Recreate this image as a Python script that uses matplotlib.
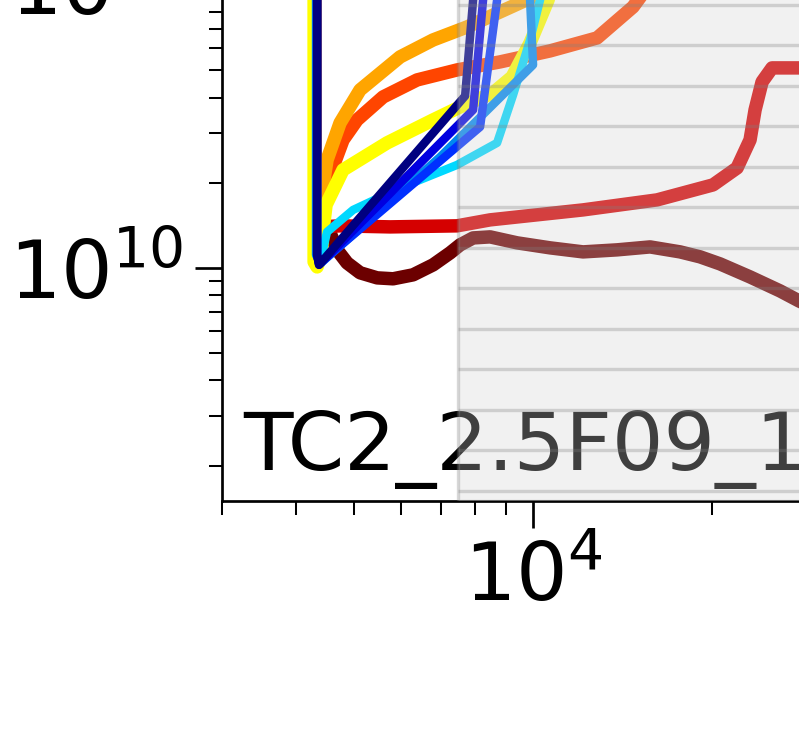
import numpy as np
import matplotlib
matplotlib.use("Agg")
import matplotlib.pyplot as plt
from matplotlib.ticker import NullFormatter

# curves (x, y in data units)
maroon_x = [4301, 4301, 4419, 4558, 4683, 4869, 5119, 5469, 5817, 6285, 6792, 7254,
            7540, 7929, 8468, 9400, 10680, 12134, 13841, 15727, 17663, 19085, 20620,
            23160, 26013, 27999, 34106]
maroon_y = [1.442e11, 1.454e10, 1.385e10, 1.329e10, 1.158e10, 1.041e10, 9.61e9, 9.22e9,
            9.15e9, 9.45e9, 1.025e10, 1.130e10, 1.206e10, 1.276e10, 1.287e10, 1.226e10,
            1.177e10, 1.139e10, 1.158e10, 1.186e10, 1.139e10, 1.094e10, 1.033e10,
            9.29e9, 8.29e9, 7.64e9, 6.29e9]

red_x = [4301, 4301, 4419, 4738, 5750, 7453, 8468, 12134, 16159, 20069, 22025, 23160,
         23613, 24262, 25218, 27999, 41393]
red_y = [1.44e11, 1.256e10, 1.396e10, 1.408e10, 1.396e10, 1.408e10, 1.478e10, 1.603e10,
         1.739e10, 1.965e10, 2.256e10, 2.834e10, 3.617e10, 4.543e10, 5.091e10, 5.091e10,
         5.091e10]

orangered_x = [4301, 4301, 4419, 4558, 4793, 5060, 5597, 6384, 7453, 8802, 10680, 12812,
               14723, 16348]
orangered_y = [1.44e11, 1.158e10, 1.670e10, 2.132e10, 2.834e10, 3.334e10, 4.020e10,
               4.617e10, 5.008e10, 5.346e10, 5.846e10, 6.498e10, 8.363e10, 1.130e11]

orange_x = [4301, 4301, 4385, 4505, 4738, 5119, 5977, 6792, 7747, 8802, 10000, 11101]
orange_y = [1.44e11, 1.158e10, 1.670e10, 2.408e10, 3.253e10, 4.256e10, 5.568e10,
            6.393e10, 7.105e10, 8.030e10, 9.07e10, 1.042e11]

yellow_x = [4285, 4285, 4335, 4402, 4436, 4488, 4793, 5684, 6792, 7540, 8566, 9220,
            9884, 10598, 10930]
yellow_y = [1.44e11, 1.050e10, 1.008e10, 1.111e10, 1.362e10, 1.670e10, 2.220e10,
            2.766e10, 3.334e10, 3.707e10, 4.153e10, 4.731e10, 6.239e10, 8.851e10, 1.130e11]

cyan_x = [4318, 4318, 4385, 4505, 4983, 5977, 7453, 8700, 9256, 9884, 10274, 10475]
cyan_y = [1.44e11, 1.111e10, 1.050e10, 1.340e10, 1.603e10, 1.917e10, 2.312e10,
          2.766e10, 4.086e10, 6.393e10, 8.851e10, 1.226e11]

azure_x = [4318, 4318, 4402, 6979, 10000, 9884, 9846]
azure_y = [1.44e11, 1.111e10, 1.041e10, 2.467e10, 5.217e10, 8.851e10, 1.442e11]

blue2_x = [4335, 4335, 4368, 8146, 8700, 8905]
blue2_y = [1.44e11, 1.111e10, 1.033e10, 3.149e10, 8.851e10, 1.442e11]

blue_x = [4335, 4335, 4368, 7929, 8241, 8370]
blue_y = [1.44e11, 1.111e10, 1.025e10, 3.617e10, 8.851e10, 1.442e11]

navy_x = [4335, 4335, 4368, 7687, 7929, 8082]
navy_y = [1.44e11, 1.111e10, 1.025e10, 4.053e10, 8.851e10, 1.442e11]

curves = [
    (maroon_x, maroon_y, "#6c0000", 4),
    (red_x, red_y, "#d50000", 4),
    (orangered_x, orangered_y, "#ff4500", 4),
    (orange_x, orange_y, "#ffa500", 4),
    (yellow_x, yellow_y, "#ffff00", 4),
    (cyan_x, cyan_y, "#00d8ff", 2.5),
    (azure_x, azure_y, "#0088f0", 2.5),
    (blue2_x, blue2_y, "#0030ff", 2.5),
    (blue_x, blue_y, "#0000e0", 2.5),
    (navy_x, navy_y, "#000080", 2.5),
]

shade_start = 7482
label = "TC2_2.5F09_1"

DPI = 243
fig = plt.figure(figsize=(799 / DPI, 755 / DPI), dpi=DPI)
ax = fig.add_axes([222 / 799, 254 / 755, 906 / 799, 799 / 755])

for xs, ys, c, lw in curves:
    ax.plot(xs, ys, color=c, lw=lw)

ax.set_xscale("log")
ax.set_yscale("log")
ax.set_xlim(3e3, 1e5)
ax.set_ylim(1.5e9, 1e12)

# shaded band, with its horizontal hatching drawn as lines
ax.axvspan(shade_start, 1e6, facecolor="lightgray", edgecolor="gray",
           alpha=0.3, lw=1, zorder=10)
hatch_y = 10 ** np.arange(9.212, 11.3, 0.1431)
ax.hlines(hatch_y, shade_start, 1e6, colors="gray", alpha=0.3, lw=1, zorder=11)

ax.text(21 / 906, 31 / 799, label, transform=ax.transAxes, fontsize=24,
        ha="left", va="baseline", color="black", zorder=3)

ax.spines["top"].set_visible(False)
ax.spines["right"].set_visible(False)
ax.tick_params(which="major", length=8, labelsize=24)
ax.tick_params(which="minor", length=4)
ax.xaxis.set_minor_formatter(NullFormatter())
ax.yaxis.set_minor_formatter(NullFormatter())

fig.savefig("out.png", dpi=DPI)
